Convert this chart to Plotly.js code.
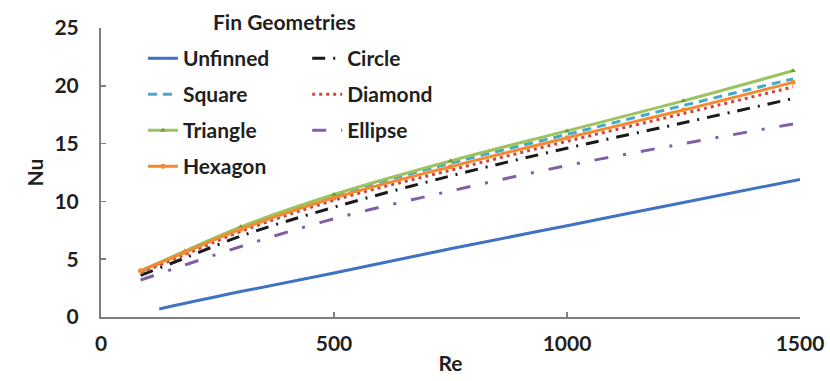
<!DOCTYPE html>
<html>
<head>
<meta charset="utf-8">
<script src="https://cdn.plot.ly/plotly-3.0.1.min.js"></script>
<style>
  html, body { margin: 0; padding: 0; background: #ffffff; }
  #chart { width: 830px; height: 381px; }
</style>
</head>
<body>
<div id="chart"></div>
<script>
// Reynolds numbers for the finned geometries and for the bare tube
const reFinned = [85, 180, 300, 500, 750, 1000, 1250, 1485];
const reUnfinned = [125, 300, 500, 750, 1000, 1250, 1500];

// Nusselt numbers per fin geometry
const nuUnfinned = [0.7, 2.2, 3.8, 5.9, 7.9, 9.9, 11.9];
const nuSquare   = [3.9, 5.6, 7.7, 10.5, 13.3, 15.8, 18.3, 20.6];
const nuTriangle = [4.0, 5.7, 7.8, 10.6, 13.5, 16.1, 18.7, 21.3];
const nuHexagon  = [4.0, 5.6, 7.6, 10.3, 13.0, 15.5, 17.9, 20.3];
const nuCircle   = [3.6, 5.1, 7.0, 9.5, 12.2, 14.6, 16.8, 18.9];
const nuDiamond  = [3.8, 5.4, 7.4, 10.1, 12.7, 15.2, 17.6, 19.9];
const nuEllipse  = [3.2, 4.5, 6.1, 8.5, 10.9, 13.1, 15.0, 16.7];

const xTicks = [0, 500, 1000, 1500];
const yTicks = [0, 5, 10, 15, 20, 25];

const FONT = 'Lato, "Open Sans", sans-serif';
const TXT = '#1f1f1f';
const SIZE = 21;

function series(name, x, y, color, dash, legend, order, marker) {
  const t = {
    type: 'scatter',
    mode: marker ? 'lines+markers' : 'lines',
    name: name,
    x: x,
    y: y,
    line: { color: color, width: 3, dash: dash, shape: 'spline', smoothing: 1.0 },
    legend: legend,
    legendgroup: name,
    legendrank: order
  };
  if (marker) t.marker = marker;
  return t;
}

const traces = [
  series('Ellipse', reFinned, nuEllipse, '#7f5fa8', '14px,15px,3px,15px', 'legend2', 3),
  series('Circle', reFinned, nuCircle, '#1a1a1a', '13px,8px,2px,8px', 'legend2', 1),
  series('Unfinned', reUnfinned, nuUnfinned, '#3f72c2', 'solid', 'legend', 1),
  series('Square', reFinned, nuSquare, '#45a9c9', '9px,6px', 'legend', 2),
  series('Triangle', reFinned, nuTriangle, '#9cc35e', 'solid', 'legend', 3,
         { symbol: 'triangle-up', size: 5, color: '#6f9a35' }),
  series('Diamond', reFinned, nuDiamond, '#d0453d', '3px,4px', 'legend2', 2),
  series('Hexagon', reFinned, nuHexagon, '#f5892f', 'solid', 'legend', 4,
         { symbol: 'circle', size: 5, color: '#f5892f' })
];

const legendBase = {
  orientation: 'v',
  xanchor: 'left',
  yanchor: 'top',
  bgcolor: 'rgba(0,0,0,0)',
  borderwidth: 0,
  tracegroupgap: 5.7,
  itemwidth: 30,
  font: { family: FONT, size: SIZE, color: TXT, weight: 'bold' }
};

const layout = {
  width: 830,
  height: 381,
  margin: { l: 101, r: 30, t: 28, b: 64 },
  paper_bgcolor: '#ffffff',
  plot_bgcolor: '#ffffff',
  showlegend: true,
  font: { family: FONT, color: TXT },
  xaxis: {
    range: [0, 1500],
    tickvals: xTicks,
    ticktext: xTicks.map(String),
    ticks: 'inside',
    ticklen: 5,
    tickwidth: 1.5,
    tickcolor: '#7f7f7f',
    ticklabelstandoff: 7,
    showline: true,
    linecolor: '#7f7f7f',
    linewidth: 2,
    showgrid: false,
    zeroline: false,
    tickfont: { family: FONT, size: SIZE, color: TXT, weight: 'bold' },
    title: { text: 'Re', standoff: 2, font: { family: FONT, size: SIZE, color: TXT, weight: 'bold' } }
  },
  yaxis: {
    range: [0, 25],
    tickvals: yTicks,
    ticktext: yTicks.map(String),
    ticks: 'inside',
    ticklen: 5,
    tickwidth: 1.5,
    tickcolor: '#7f7f7f',
    ticklabelstandoff: 16,
    showline: true,
    linecolor: '#7f7f7f',
    linewidth: 2,
    showgrid: false,
    zeroline: false,
    tickfont: { family: FONT, size: SIZE, color: TXT, weight: 'bold' },
    title: { text: 'Nu', standoff: 5, font: { family: FONT, size: SIZE, color: TXT, weight: 'bold' } }
  },
  legend: Object.assign({}, legendBase, { x: 0.060, y: 0.965 }),
  legend2: Object.assign({}, legendBase, { x: 0.295, y: 0.965 }),
  annotations: [{
    text: 'Fin Geometries',
    xref: 'paper', yref: 'paper',
    x: 0.262, y: 1.021,
    xanchor: 'center', yanchor: 'middle',
    showarrow: false,
    font: { family: FONT, size: SIZE, color: TXT, weight: 'bold' }
  }]
};

Plotly.newPlot('chart', traces, layout, { displayModeBar: false, staticPlot: true });
</script>
</body>
</html>
